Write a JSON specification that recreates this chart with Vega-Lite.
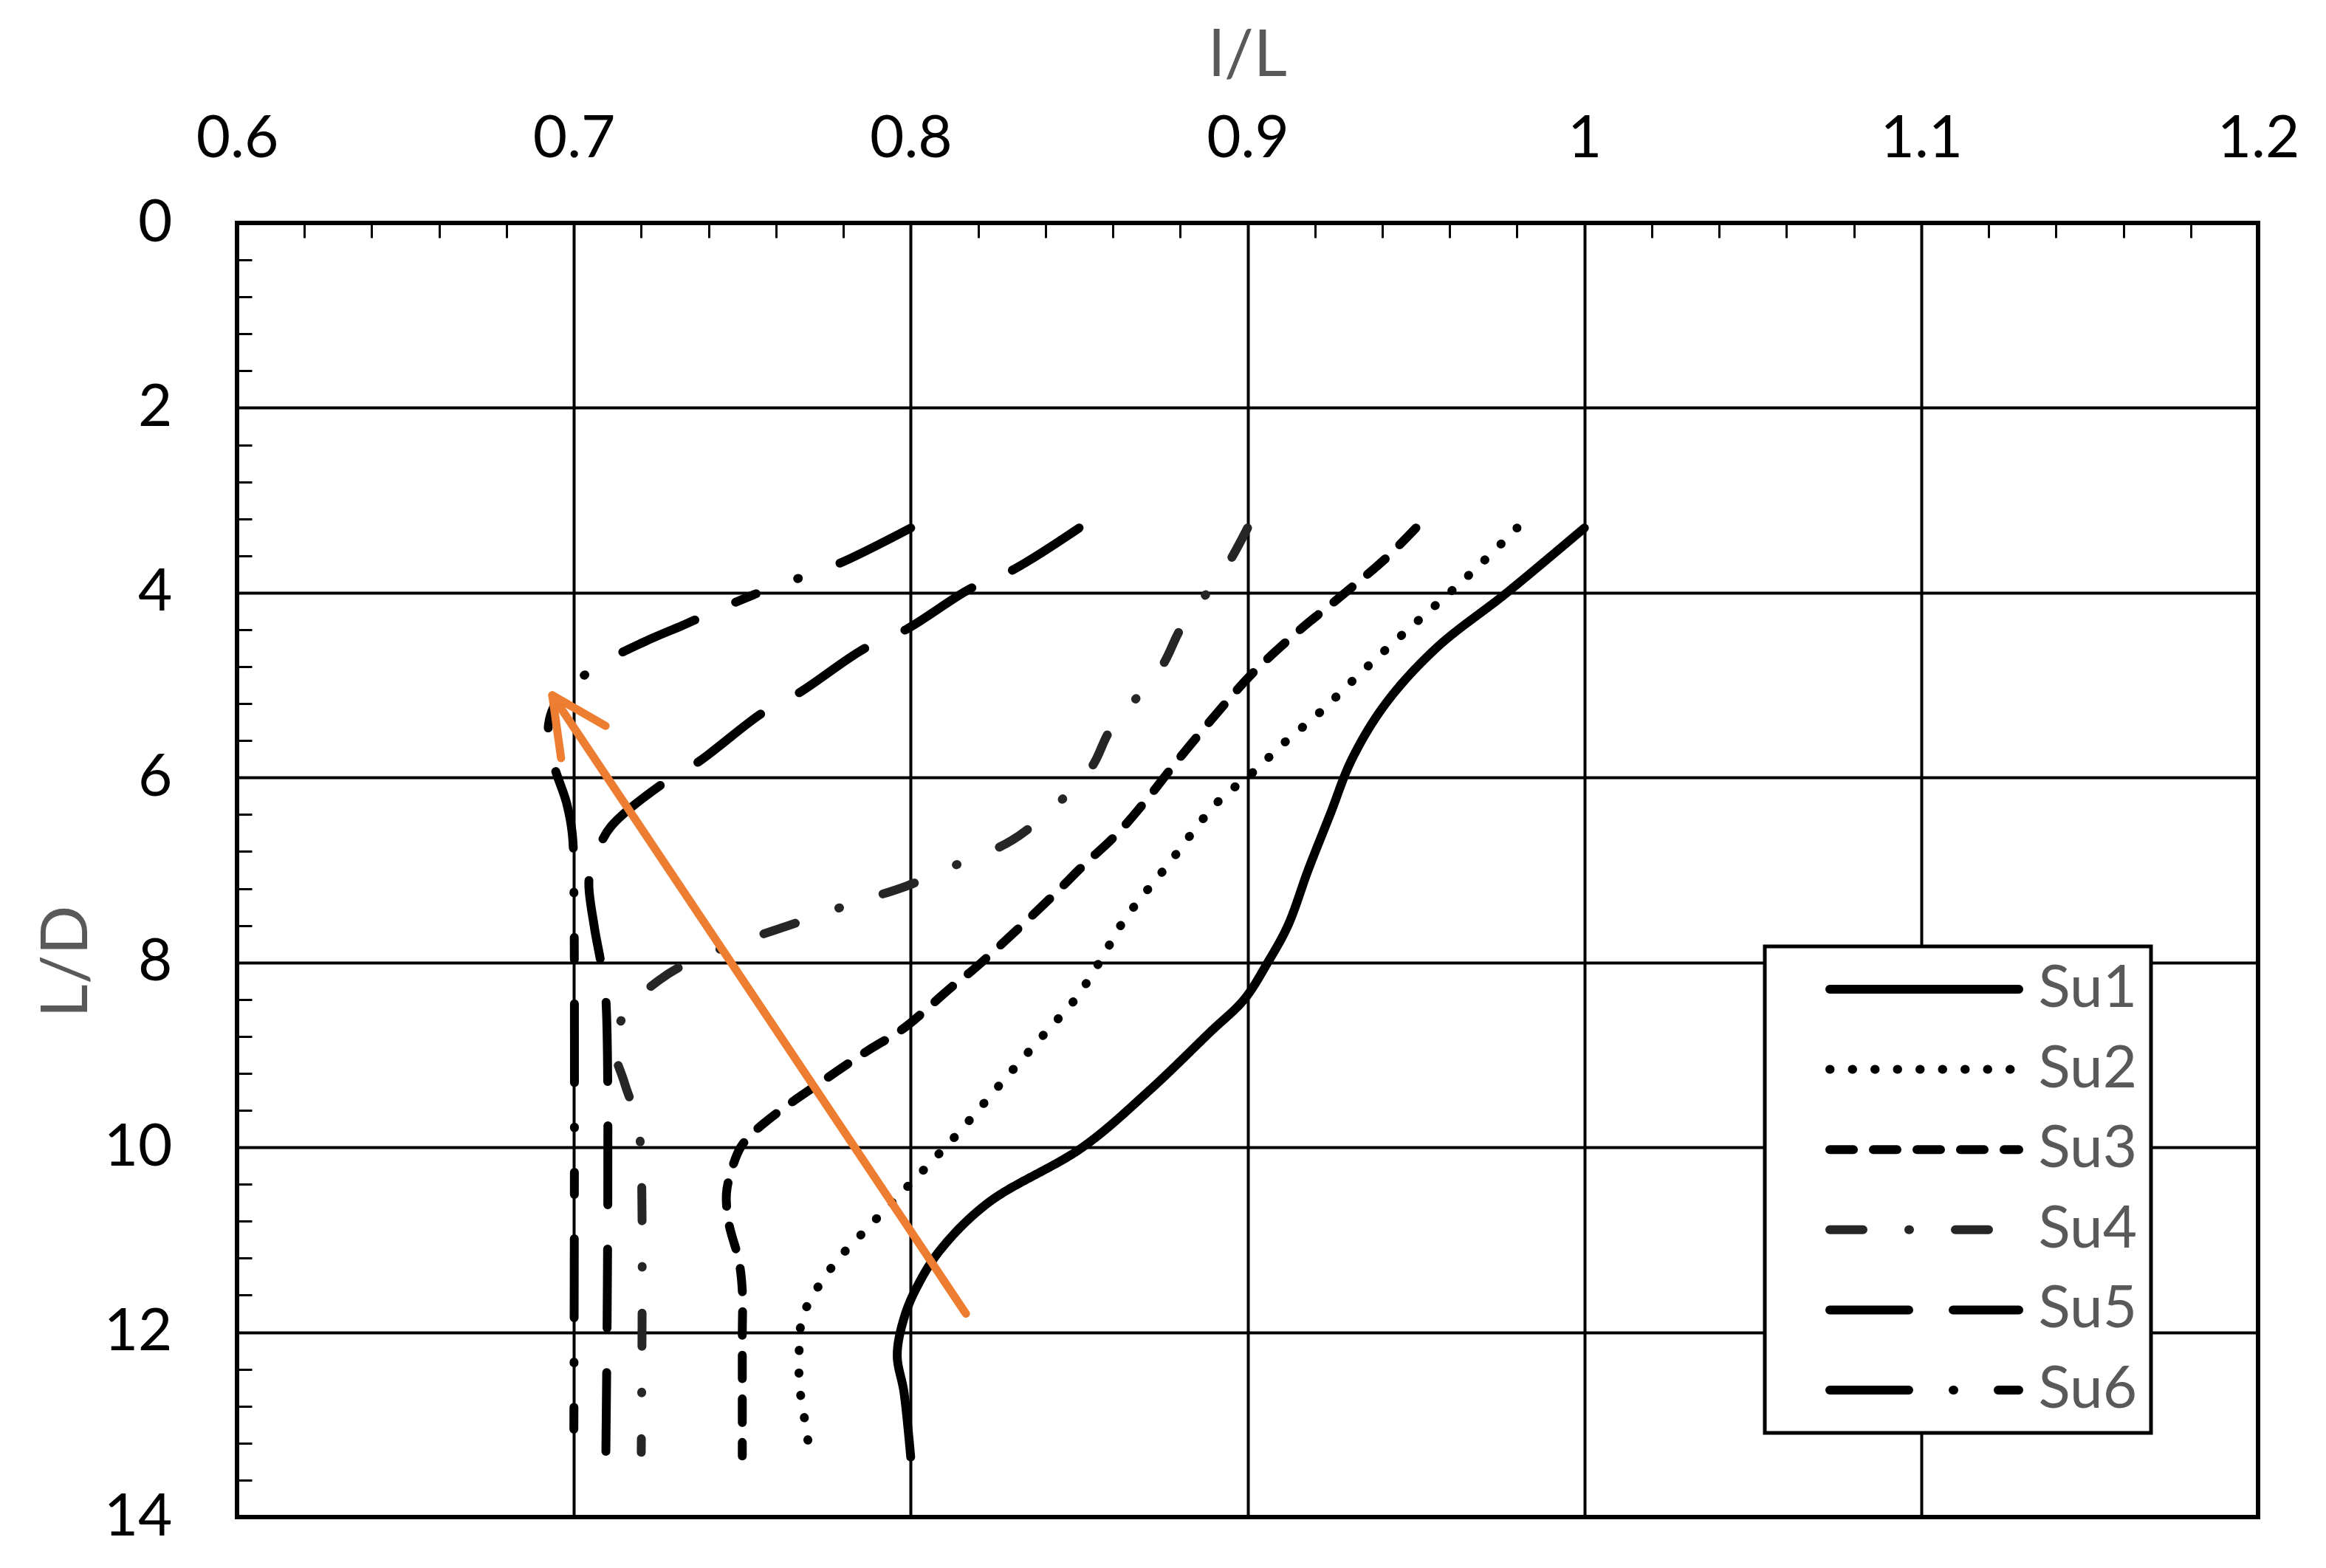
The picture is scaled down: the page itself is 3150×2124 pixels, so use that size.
{
  "$schema": "https://vega.github.io/schema/vega-lite/v6.json",
  "autosize": {"type": "none"},
  "padding": {"left": 321, "top": 302, "right": 92, "bottom": 69},
  "width": 2737,
  "height": 1753,
  "background": "white",
  "config": {
    "font": "Lato",
    "view": {"stroke": "black", "strokeWidth": 6},
    "legend": {"strokeWidth": 5},
    "axis": {
      "domain": false,
      "gridColor": "black",
      "gridWidth": 4,
      "tickColor": "black",
      "tickWidth": 3,
      "tickSize": -20,
      "labelFont": "Lato",
      "labelFontSize": 80,
      "labelColor": "black",
      "labelOverlap": false,
      "labelFlush": false,
      "titleFont": "Lato",
      "titleFontSize": 88,
      "titleFontWeight": "normal",
      "titleColor": "#595959"
    }
  },
  "datasets": {
    "curves": [
      {"s": "Su1", "x": 1.0, "y": 3.3}, {"s": "Su1", "x": 0.977, "y": 4.0}, {"s": "Su1", "x": 0.956, "y": 4.6}, {"s": "Su1", "x": 0.941, "y": 5.2}, {"s": "Su1", "x": 0.931, "y": 5.8}, {"s": "Su1", "x": 0.9245, "y": 6.4}, {"s": "Su1", "x": 0.918, "y": 7.0}, {"s": "Su1", "x": 0.912, "y": 7.6}, {"s": "Su1", "x": 0.906, "y": 8.0}, {"s": "Su1", "x": 0.899, "y": 8.4}, {"s": "Su1", "x": 0.889, "y": 8.75}, {"s": "Su1", "x": 0.871, "y": 9.38}, {"s": "Su1", "x": 0.851, "y": 10.0}, {"s": "Su1", "x": 0.823, "y": 10.6}, {"s": "Su1", "x": 0.809, "y": 11.1}, {"s": "Su1", "x": 0.802, "y": 11.5}, {"s": "Su1", "x": 0.798, "y": 11.85}, {"s": "Su1", "x": 0.796, "y": 12.25}, {"s": "Su1", "x": 0.798, "y": 12.65}, {"s": "Su1", "x": 0.8, "y": 13.35},
      {"s": "Su2", "x": 0.98, "y": 3.3}, {"s": "Su2", "x": 0.9696, "y": 3.675}, {"s": "Su2", "x": 0.96, "y": 4.0}, {"s": "Su2", "x": 0.9507, "y": 4.3}, {"s": "Su2", "x": 0.94, "y": 4.65}, {"s": "Su2", "x": 0.9307, "y": 4.97}, {"s": "Su2", "x": 0.9213, "y": 5.3}, {"s": "Su2", "x": 0.911, "y": 5.62}, {"s": "Su2", "x": 0.9014, "y": 5.95}, {"s": "Su2", "x": 0.891, "y": 6.27}, {"s": "Su2", "x": 0.876, "y": 6.96}, {"s": "Su2", "x": 0.8636, "y": 7.53}, {"s": "Su2", "x": 0.8563, "y": 7.98}, {"s": "Su2", "x": 0.849, "y": 8.39}, {"s": "Su2", "x": 0.8405, "y": 8.74}, {"s": "Su2", "x": 0.827, "y": 9.3}, {"s": "Su2", "x": 0.814, "y": 9.85}, {"s": "Su2", "x": 0.805, "y": 10.2}, {"s": "Su2", "x": 0.796, "y": 10.54}, {"s": "Su2", "x": 0.787, "y": 10.88}, {"s": "Su2", "x": 0.778, "y": 11.23}, {"s": "Su2", "x": 0.7705, "y": 11.63}, {"s": "Su2", "x": 0.7677, "y": 11.86}, {"s": "Su2", "x": 0.767, "y": 12.1}, {"s": "Su2", "x": 0.767, "y": 12.57}, {"s": "Su2", "x": 0.769, "y": 13.05}, {"s": "Su2", "x": 0.77, "y": 13.3},
      {"s": "Su3", "x": 0.95, "y": 3.3}, {"s": "Su3", "x": 0.941, "y": 3.63}, {"s": "Su3", "x": 0.929, "y": 4.0}, {"s": "Su3", "x": 0.914, "y": 4.45}, {"s": "Su3", "x": 0.901, "y": 4.89}, {"s": "Su3", "x": 0.891, "y": 5.3}, {"s": "Su3", "x": 0.878, "y": 5.87}, {"s": "Su3", "x": 0.872, "y": 6.15}, {"s": "Su3", "x": 0.8615, "y": 6.6}, {"s": "Su3", "x": 0.851, "y": 6.96}, {"s": "Su3", "x": 0.843, "y": 7.25}, {"s": "Su3", "x": 0.83, "y": 7.7}, {"s": "Su3", "x": 0.8185, "y": 8.08}, {"s": "Su3", "x": 0.812, "y": 8.27}, {"s": "Su3", "x": 0.798, "y": 8.71}, {"s": "Su3", "x": 0.787, "y": 8.96}, {"s": "Su3", "x": 0.774, "y": 9.28}, {"s": "Su3", "x": 0.761, "y": 9.61}, {"s": "Su3", "x": 0.753, "y": 9.85}, {"s": "Su3", "x": 0.7495, "y": 10.0}, {"s": "Su3", "x": 0.7467, "y": 10.26}, {"s": "Su3", "x": 0.7453, "y": 10.5}, {"s": "Su3", "x": 0.746, "y": 10.82}, {"s": "Su3", "x": 0.749, "y": 11.23}, {"s": "Su3", "x": 0.75, "y": 11.55}, {"s": "Su3", "x": 0.75, "y": 12.04}, {"s": "Su3", "x": 0.75, "y": 13.34},
      {"s": "Su4", "x": 0.9, "y": 3.3}, {"s": "Su4", "x": 0.894, "y": 3.7}, {"s": "Su4", "x": 0.887, "y": 4.05}, {"s": "Su4", "x": 0.88, "y": 4.4}, {"s": "Su4", "x": 0.875, "y": 4.77}, {"s": "Su4", "x": 0.867, "y": 5.14}, {"s": "Su4", "x": 0.859, "y": 5.5}, {"s": "Su4", "x": 0.854, "y": 5.87}, {"s": "Su4", "x": 0.846, "y": 6.2}, {"s": "Su4", "x": 0.83, "y": 6.68}, {"s": "Su4", "x": 0.815, "y": 6.92}, {"s": "Su4", "x": 0.799, "y": 7.17}, {"s": "Su4", "x": 0.782, "y": 7.37}, {"s": "Su4", "x": 0.763, "y": 7.61}, {"s": "Su4", "x": 0.746, "y": 7.82}, {"s": "Su4", "x": 0.733, "y": 8.02}, {"s": "Su4", "x": 0.725, "y": 8.2}, {"s": "Su4", "x": 0.716, "y": 8.5}, {"s": "Su4", "x": 0.712, "y": 8.9}, {"s": "Su4", "x": 0.715, "y": 9.3}, {"s": "Su4", "x": 0.719, "y": 9.75}, {"s": "Su4", "x": 0.72, "y": 10.2}, {"s": "Su4", "x": 0.72, "y": 13.3},
      {"s": "Su5", "x": 0.85, "y": 3.3}, {"s": "Su5", "x": 0.83, "y": 3.76}, {"s": "Su5", "x": 0.8175, "y": 3.96}, {"s": "Su5", "x": 0.799, "y": 4.39}, {"s": "Su5", "x": 0.786, "y": 4.61}, {"s": "Su5", "x": 0.767, "y": 5.08}, {"s": "Su5", "x": 0.756, "y": 5.3}, {"s": "Su5", "x": 0.737, "y": 5.83}, {"s": "Su5", "x": 0.727, "y": 6.05}, {"s": "Su5", "x": 0.711, "y": 6.53}, {"s": "Su5", "x": 0.707, "y": 6.8}, {"s": "Su5", "x": 0.7045, "y": 7.1}, {"s": "Su5", "x": 0.706, "y": 7.6}, {"s": "Su5", "x": 0.708, "y": 8.0}, {"s": "Su5", "x": 0.7095, "y": 8.4}, {"s": "Su5", "x": 0.7095, "y": 13.3},
      {"s": "Su6", "x": 0.8, "y": 3.3}, {"s": "Su6", "x": 0.779, "y": 3.68}, {"s": "Su6", "x": 0.767, "y": 3.84}, {"s": "Su6", "x": 0.7535, "y": 4.02}, {"s": "Su6", "x": 0.7325, "y": 4.35}, {"s": "Su6", "x": 0.721, "y": 4.53}, {"s": "Su6", "x": 0.7087, "y": 4.76}, {"s": "Su6", "x": 0.6962, "y": 5.11}, {"s": "Su6", "x": 0.6925, "y": 5.42}, {"s": "Su6", "x": 0.694, "y": 5.85}, {"s": "Su6", "x": 0.6978, "y": 6.27}, {"s": "Su6", "x": 0.6995, "y": 6.6}, {"s": "Su6", "x": 0.7, "y": 7.2}, {"s": "Su6", "x": 0.7, "y": 13.05}
    ],
    "arrow": [
      {"part": "shaft", "o": 1, "x": 0.8164, "y": 11.8},
      {"part": "shaft", "o": 2, "x": 0.6936, "y": 5.11},
      {"part": "head", "o": 1, "x": 0.7094, "y": 5.44},
      {"part": "head", "o": 2, "x": 0.6936, "y": 5.11},
      {"part": "head", "o": 3, "x": 0.6962, "y": 5.79}
    ]
  },
  "encoding": {
    "x": {
      "field": "x", "type": "quantitative",
      "scale": {"domain": [0.6, 1.2], "nice": false, "zero": false},
      "axis": {
        "orient": "top",
        "title": "l/L",
        "titleY": -200,
        "titleBaseline": "alphabetic",
        "values": [0.6, 0.62, 0.64, 0.66, 0.68, 0.7, 0.72, 0.74, 0.76, 0.78, 0.8, 0.82, 0.84, 0.86, 0.88, 0.9, 0.92, 0.94, 0.96, 0.98, 1.0, 1.02, 1.04, 1.06, 1.08, 1.1, 1.12, 1.14, 1.16, 1.18, 1.2],
        "labelExpr": "abs(datum.value*10 - round(datum.value*10)) < 0.001 ? toString(round(datum.value*10)/10) : ''",
        "gridOpacity": {"condition": {"test": "abs(datum.value*10 - round(datum.value*10)) < 0.001", "value": 1}, "value": 0},
        "labelPadding": 110,
        "labelBaseline": "alphabetic"
      }
    },
    "y": {
      "field": "y", "type": "quantitative",
      "scale": {"domain": [0, 14], "nice": false, "zero": false, "reverse": true},
      "axis": {
        "orient": "left",
        "title": "L/D",
        "titleX": -204,
        "titleY": 1000,
        "titleBaseline": "alphabetic",
        "titleAlign": "center",
        "values": [0, 0.4, 0.8, 1.2, 1.6, 2, 2.4, 2.8, 3.2, 3.6, 4, 4.4, 4.8, 5.2, 5.6, 6, 6.4, 6.8, 7.2, 7.6, 8, 8.4, 8.8, 9.2, 9.6, 10, 10.4, 10.8, 11.2, 11.6, 12, 12.4, 12.8, 13.2, 13.6, 14],
        "labelExpr": "abs(datum.value/2 - round(datum.value/2)) < 0.001 ? toString(round(datum.value)) : ''",
        "gridOpacity": {"condition": {"test": "abs(datum.value/2 - round(datum.value/2)) < 0.001", "value": 1}, "value": 0},
        "labelPadding": 108,
        "labelAlign": "right",
        "labelBaseline": "middle"
      }
    }
  },
  "layer": [
    {
      "data": {"name": "curves"},
      "mark": {"type": "line", "strokeWidth": 12, "strokeCap": "round", "strokeJoin": "round", "interpolate": "catmull-rom"},
      "encoding": {
        "order": {"field": "y", "type": "quantitative"},
        "color": {
          "field": "s", "type": "nominal",
          "scale": {"domain": ["Su1", "Su2", "Su3", "Su4", "Su5", "Su6"], "range": ["#000000", "#000000", "#000000", "#262626", "#000000", "#000000"]},
          "legend": {
            "orient": "none", "legendX": 2069, "legendY": 980, "title": null,
            "symbolType": "stroke", "symbolSize": 65536, "symbolStrokeWidth": 12,
            "clipHeight": 80, "rowPadding": 28.6, "padding": 18,
            "symbolOffset": 64, "labelOffset": 20.5, "labelLimit": 400,
            "labelFont": "Lato", "labelFontSize": 80, "labelColor": "#595959", "labelBaseline": "middle",
            "strokeColor": "black", "fillColor": "white",
            "encode": {"symbols": {"update": {"strokeCap": {"value": "round"}}}}
          }
        },
        "strokeDash": {
          "field": "s", "type": "nominal",
          "scale": {"domain": ["Su1", "Su2", "Su3", "Su4", "Su5", "Su6"], "range": [[1, 0], [0.5, 30], [32, 27], [45, 62, 1, 62], [107, 60], [107, 60, 1, 60, 30, 60]]},
          "legend": {
            "orient": "none", "legendX": 2069, "legendY": 980, "title": null,
            "symbolType": "stroke", "symbolSize": 65536, "symbolStrokeWidth": 12,
            "clipHeight": 80, "rowPadding": 28.6, "padding": 18,
            "symbolOffset": 64, "labelOffset": 20.5, "labelLimit": 400,
            "labelFont": "Lato", "labelFontSize": 80, "labelColor": "#595959", "labelBaseline": "middle",
            "strokeColor": "black", "fillColor": "white",
            "encode": {"symbols": {"update": {"strokeCap": {"value": "round"}}}}
          }
        }
      }
    },
    {
      "data": {"name": "arrow"},
      "mark": {"type": "line", "color": "#ED7D31", "strokeWidth": 11, "strokeCap": "round", "strokeJoin": "round", "interpolate": "linear"},
      "encoding": {
        "detail": {"field": "part", "type": "nominal"},
        "order": {"field": "o", "type": "quantitative"}
      }
    }
  ]
}
